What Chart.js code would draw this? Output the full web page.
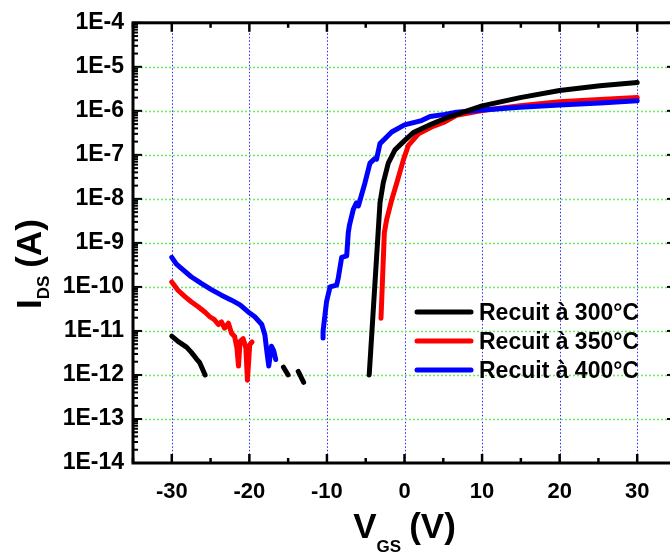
<!DOCTYPE html>
<html>
<head>
<meta charset="utf-8">
<script src="https://cdn.jsdelivr.net/npm/chart.js@4.4.1/dist/chart.umd.min.js"></script>
<style>
  html, body { margin: 0; padding: 0; background: #fff; overflow: hidden; }
  canvas { display: block; }
</style>
</head>
<body>
<canvas id="graphe" width="700" height="554"></canvas>
<script>
const FONT = "'Liberation Sans', Arial, sans-serif";

// Recuit à 300°C
const vgs300 = [-30.0, -29.2, -28.1, -27.5, -26.8, -26.4, -25.7, -20, -15.6, -15.0, -14.3, -13.7, -13.0, -8,
  -4.55, -3.4, -3.16, -2.74, -2.09, -1.23, 0, 1.14, 3.5, 5.3, 10, 14.9, 20, 25.2, 30];
const ids300 = [7.6e-12, 5.8e-12, 4.3e-12, 3.3e-12, 2.3e-12, 1.9e-12, 1.0e-12, null, 1.5e-12, 1.0e-12, null, 1.2e-12, 6.8e-13, null,
  1.0e-12, 1.7e-9, 8.1e-9, 2.3e-8, 6.5e-8, 1.3e-7, 2.1e-7, 3.2e-7, 5.0e-7, 6.8e-7, 1.3e-6, 2.0e-6, 2.9e-6, 3.7e-6, 4.4e-6];

// Recuit à 350°C
const vgs350 = [-30.0, -29.2, -28.3, -27.5, -26.6, -25.7, -25.1, -24.5, -24.0, -23.6, -23.2, -22.7, -22.3, -21.9, -21.6,
  -21.4, -21.2, -20.8, -20.45, -20.25, -19.95, -19.65, -10,
  -3.03, -2.6, -2.3, -1.65, -1.0, -0.15, 0.5, 1.8, 3.5, 5.2, 6.7, 10, 14.9, 20, 25.2, 30];
const ids350 = [1.3e-10, 8.4e-11, 6.0e-11, 4.6e-11, 3.55e-11, 2.65e-11, 2.1e-11, 1.8e-11, 1.4e-11, 1.6e-11, 1.16e-11, 1.5e-11, 8.9e-12, 7.5e-12, 4.1e-12,
  1.6e-12, 5.8e-12, 6.7e-12, 4.1e-12, 7.6e-13, 4.9e-12, 5.6e-12, null,
  1.95e-11, 1.7e-9, 3.4e-9, 9.5e-9, 2.3e-8, 7.6e-8, 1.65e-7, 3.0e-7, 4.3e-7, 5.6e-7, 7.9e-7, 1.02e-6, 1.3e-6, 1.6e-6, 1.8e-6, 2.0e-6];

// Recuit à 400°C
const vgs400 = [-30.0, -29.4, -28.5, -27.5, -26.2, -24.9, -23.6, -22.3, -21.2, -20.15, -19.3, -18.4, -18.0, -17.8, -17.5,
  -17.15, -16.85, -16.6, -13,
  -10.5, -10.5, -10.05, -9.6, -8.75, -8.55, -8.1, -7.45, -7.25, -7.1, -6.6, -6.2, -5.95, -5.1, -4.45, -3.8, -3.6, -3.16,
  -1.65, 0, 2.2, 3.3, 5.2, 6.7, 10, 14.9, 20, 25.2, 30];
const ids400 = [4.7e-10, 3.3e-10, 2.4e-10, 1.7e-10, 1.2e-10, 8.7e-11, 6.5e-11, 5.0e-11, 3.9e-11, 2.7e-11, 2.1e-11, 1.4e-11, 8.2e-12, 4.1e-12, 1.6e-12,
  4.5e-12, 3.5e-12, 2.25e-12, null,
  6.9e-12, 9.8e-12, 4.6e-11, 1.0e-10, 1.1e-10, 1.55e-10, 4.7e-10, 5.1e-10, 1.7e-9, 2.5e-9, 5.8e-9, 8.1e-9, 6.9e-9, 2.3e-8, 6.5e-8, 8.3e-8, 8.0e-8, 1.8e-7,
  3.3e-7, 4.8e-7, 6.0e-7, 7.4e-7, 8.3e-7, 9.3e-7, 1.05e-6, 1.2e-6, 1.35e-6, 1.5e-6, 1.7e-6];

const seriesLabels = ['Recuit à 300°C', 'Recuit à 350°C', 'Recuit à 400°C'];
const seriesColors = ['#000000', '#ff0000', '#0000ff'];

const xTicks = [-30, -20, -10, 0, 10, 20, 30];
const xTickLabels = ['-30', '-20', '-10', '0', '10', '20', '30'];
const yTicks = [1e-14, 1e-13, 1e-12, 1e-11, 1e-10, 1e-9, 1e-8, 1e-7, 1e-6, 1e-5, 1e-4];
const yTickLabels = ['1E-14', '1E-13', '1E-12', '1E-11', '1E-10', '1E-9', '1E-8', '1E-7', '1E-6', '1E-5', '1E-4'];

const xTitle = ['V', 'GS', '(V)'];
const yTitle = ['I', 'DS', '(A)'];

const points = (xs, ys) => xs.map((v, i) => ({ x: v, y: ys[i] }));

// grille pointillée : bleue en X, verte en Y
const grille = {
  id: 'grille',
  beforeDatasetsDraw(chart) {
    const { ctx, chartArea: a, scales } = chart;
    ctx.save();
    ctx.lineWidth = 1;
    ctx.setLineDash([1.5, 2]);
    ctx.strokeStyle = '#2a2aff';
    xTicks.forEach(v => {
      const px = Math.round(scales.x.getPixelForValue(v)) + 0.5;
      ctx.beginPath(); ctx.moveTo(px, a.top); ctx.lineTo(px, a.bottom); ctx.stroke();
    });
    ctx.strokeStyle = '#66ee5c';
    ctx.lineWidth = 1.5;
    ctx.setLineDash([2, 2]);
    for (let e = -13; e <= -5; e++) {
      const py = Math.round(scales.y.getPixelForValue(Math.pow(10, e))) + 0.5;
      ctx.beginPath(); ctx.moveTo(a.left, py); ctx.lineTo(a.right, py); ctx.stroke();
    }
    ctx.restore();
  }
};

// cadre noir + graduations vers l'intérieur (style Origin)
const cadre = {
  id: 'cadre',
  afterDraw(chart) {
    const { ctx, chartArea: a, scales: { x, y } } = chart;
    const seg = (x1, y1, x2, y2) => { ctx.beginPath(); ctx.moveTo(x1, y1); ctx.lineTo(x2, y2); ctx.stroke(); };
    ctx.save();
    ctx.strokeStyle = '#000';
    ctx.lineWidth = 2.5;
    for (let v = -35; v <= 35; v += 5) {
      const px = x.getPixelForValue(v);
      const len = v % 10 === 0 ? 9 : 5;
      seg(px, a.bottom, px, a.bottom - len);
      seg(px, a.top, px, a.top + len);
    }
    ctx.lineWidth = 2;
    for (let e = -14; e <= -4; e++) {
      for (let m = 1; m <= 9; m++) {
        if (e === -4 && m > 1) break;
        const py = y.getPixelForValue(m * Math.pow(10, e));
        const len = m === 1 ? 9 : 5;
        seg(a.left, py, a.left + len, py);
        seg(a.right, py, a.right - len, py);
      }
    }
    ctx.lineWidth = 3;
    ctx.strokeRect(a.left, a.top, a.right - a.left, a.bottom - a.top);
    ctx.restore();
  }
};

// légende dans le graphe
const legende = {
  id: 'legende',
  afterDraw(chart) {
    const { ctx } = chart;
    ctx.save();
    ctx.font = 'bold 23px ' + FONT;
    ctx.textBaseline = 'alphabetic';
    chart.data.datasets.forEach((ds, i) => {
      const yy = 312 + i * 29;
      ctx.strokeStyle = ds.borderColor;
      ctx.lineWidth = 5;
      ctx.lineCap = 'round';
      ctx.beginPath(); ctx.moveTo(417, yy); ctx.lineTo(471, yy); ctx.stroke();
      ctx.fillStyle = '#000';
      ctx.fillText(ds.label, 479, yy + 8);
    });
    ctx.restore();
  }
};

// titres des axes avec indices
const titres = {
  id: 'titres',
  afterDraw(chart) {
    const { ctx, chartArea: a } = chart;
    const big = 'bold 35px ' + FONT, small = 'bold 17px ' + FONT;
    const draw = (parts) => {
      ctx.font = big; const w0 = ctx.measureText(parts[0]).width;
      ctx.font = small; const w1 = ctx.measureText(parts[1]).width;
      ctx.font = big; const w2 = ctx.measureText(parts[2]).width;
      return { w0, w1, w2, total: w0 + w1 + 8 + w2 };
    };
    ctx.save();
    ctx.fillStyle = '#000';
    ctx.textBaseline = 'alphabetic';
    // axe X
    let m = draw(xTitle);
    let x0 = (a.left + a.right) / 2 - m.total / 2;
    ctx.font = big; ctx.fillText(xTitle[0], x0, 538);
    ctx.font = small; ctx.fillText(xTitle[1], x0 + m.w0, 552);
    ctx.font = big; ctx.fillText(xTitle[2], x0 + m.w0 + m.w1 + 8, 538);
    // axe Y
    m = draw(yTitle);
    ctx.translate(41, 309);
    ctx.rotate(-Math.PI / 2);
    ctx.font = big; ctx.fillText(yTitle[0], 0, 0);
    ctx.font = small; ctx.fillText(yTitle[1], m.w0, 8);
    ctx.font = big; ctx.fillText(yTitle[2], m.w0 + m.w1 + 8, 0);
    ctx.restore();
  }
};

new Chart(document.getElementById('graphe'), {
  type: 'line',
  data: {
    datasets: [
      { label: seriesLabels[0], data: points(vgs300, ids300), borderColor: seriesColors[0], order: 0 },
      { label: seriesLabels[1], data: points(vgs350, ids350), borderColor: seriesColors[1], order: 2 },
      { label: seriesLabels[2], data: points(vgs400, ids400), borderColor: seriesColors[2], order: 1 }
    ]
  },
  options: {
    responsive: false,
    animation: false,
    devicePixelRatio: 1,
    spanGaps: false,
    layout: { padding: { top: 18, right: 24, left: 0, bottom: 0 } },
    elements: {
      line: { borderWidth: 5, tension: 0, borderCapStyle: 'round', borderJoinStyle: 'round', fill: false },
      point: { radius: 0, hoverRadius: 0 }
    },
    plugins: {
      legend: { display: false },
      tooltip: { enabled: false }
    },
    scales: {
      x: {
        type: 'linear',
        min: -35,
        max: 35,
        afterBuildTicks: (s) => { s.ticks = xTicks.map(v => ({ value: v })); },
        afterFit: (s) => { s.height = 91; },
        grid: { display: false, drawTicks: false },
        border: { display: false },
        ticks: {
          padding: 16,
          color: '#000',
          font: { family: FONT, size: 22, weight: 'bold' },
          callback: (v, i) => xTickLabels[i]
        }
      },
      y: {
        type: 'logarithmic',
        min: 1e-14,
        max: 1e-4,
        afterBuildTicks: (s) => { s.ticks = yTicks.map(v => ({ value: v })); },
        afterFit: (s) => { s.width = 133; },
        grid: { display: false, drawTicks: false },
        border: { display: false },
        ticks: {
          padding: 9,
          color: '#000',
          font: { family: FONT, size: 23, weight: 'bold' },
          callback: (v, i) => yTickLabels[i]
        }
      }
    }
  },
  plugins: [grille, cadre, legende, titres]
});
</script>
</body>
</html>
